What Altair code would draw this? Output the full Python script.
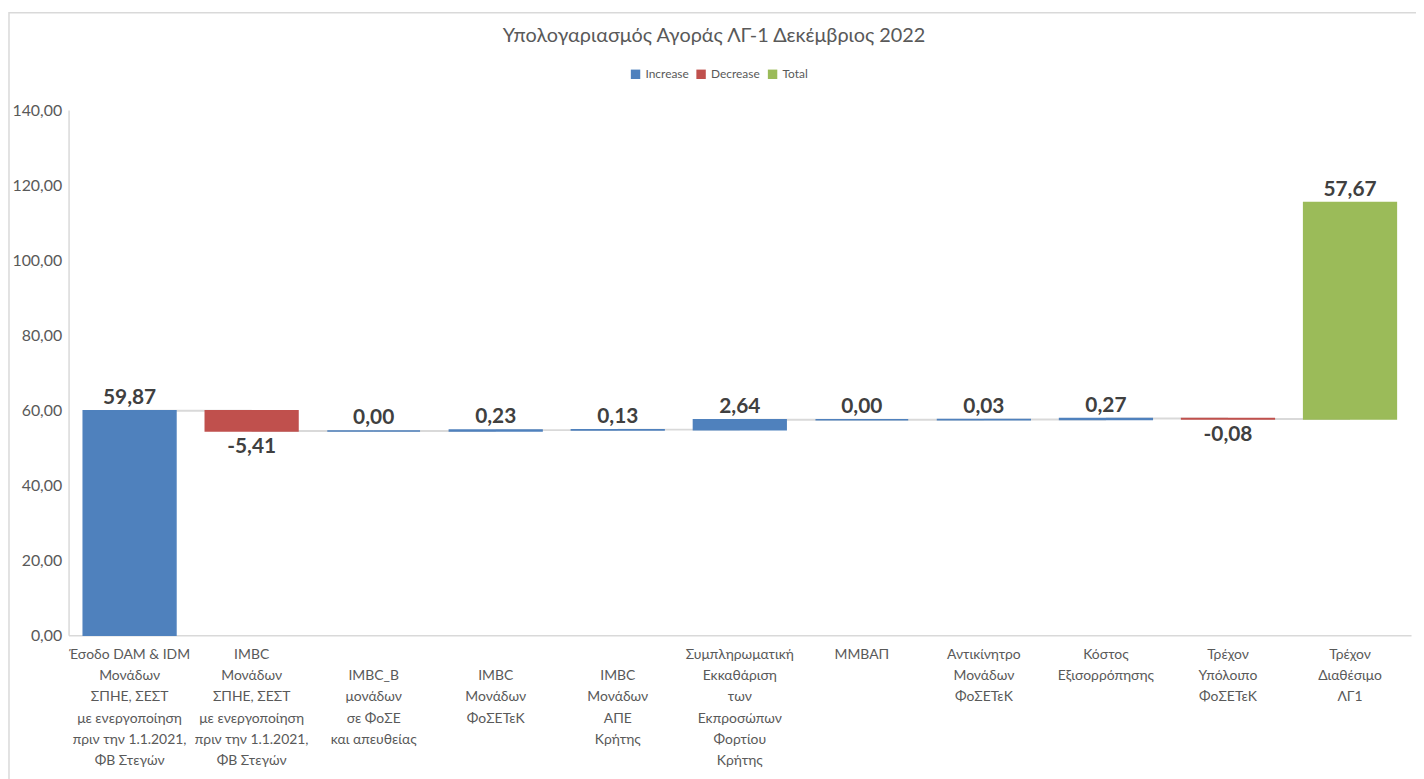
import altair as alt
import pandas as pd

categories = [
    "Έσοδο DAM & IDM|Μονάδων|ΣΠΗΕ, ΣΕΣΤ|με ενεργοποίηση|πριν την 1.1.2021,|ΦΒ Στεγών",
    "IMBC|Μονάδων|ΣΠΗΕ, ΣΕΣΤ|με ενεργοποίηση|πριν την 1.1.2021,|ΦΒ Στεγών",
    "|IMBC_B|μονάδων|σε ΦοΣΕ|και απευθείας",
    "|IMBC|Μονάδων|ΦοΣΕΤεΚ",
    "|IMBC|Μονάδων|ΑΠΕ|Κρήτης",
    "Συμπληρωματική|Εκκαθάριση|των|Εκπροσώπων|Φορτίου|Κρήτης",
    "ΜΜΒΑΠ",
    "Αντικίνητρο|Μονάδων|ΦοΣΕΤεΚ",
    "Κόστος|Εξισορρόπησης",
    "Τρέχον|Υπόλοιπο|ΦοΣΕΤεΚ",
    "Τρέχον|Διαθέσιμο|ΛΓ1",
]
values = [59.87, -5.41, 0.00, 0.23, 0.13, 2.64, 0.00, 0.03, 0.27, -0.08, 57.67]
kinds = ["Increase", "Decrease", "Increase", "Increase", "Increase", "Increase",
         "Increase", "Increase", "Increase", "Decrease", "Total"]
y_ticks = [0, 20, 40, 60, 80, 100, 120, 140]

rows = []
cum = 0.0
for cat, v, k in zip(categories, values, kinds):
    start = cum
    end = cum + v
    if k != "Total":
        cum = end
    rows.append(dict(cat=cat, start=start, end=end, kind=k, value=v,
                     label=f"{v:.2f}".replace(".", ","),
                     top=max(start, end), bottom=min(start, end)))
df = pd.DataFrame(rows)

conn = []
for i in range(len(categories) - 1):
    conn.append(dict(c1=categories[i], c2=categories[i + 1], level=rows[i]["end"]))
cdf = pd.DataFrame(conn)

FONT = "Lato, Open Sans, sans-serif"
W, H = 1352, 529
PADL, PADT = 61, 100

xscale = alt.Scale(domain=categories, paddingInner=0.24, paddingOuter=0.12)
yscale = alt.Scale(domain=[0, 140], nice=False)

xaxis = alt.Axis(title=None, labelAngle=0, labelExpr="split(datum.label, '|')",
                 labelFontSize=14, labelColor="#595959", labelFont=FONT,
                 labelLineHeight=21.5, labelPadding=12, labelLimit=0,
                 ticks=False, domainColor="#D9D9D9", domainWidth=1.5,
                 labelBaseline="top")
yaxis = alt.Axis(title=None, values=y_ticks,
                 labelExpr="replace(format(datum.value, '.2f'), '.', ',')",
                 labelFontSize=16, labelColor="#595959", labelFont=FONT,
                 ticks=False, grid=False, domainColor="#D9D9D9", domainWidth=1.5,
                 labelPadding=7)

colors = alt.Scale(domain=["Increase", "Decrease", "Total"],
                   range=["#4F81BD", "#C0504D", "#9BBB59"])

frame = alt.Chart(pd.DataFrame({"a": [0]})).mark_rect(
    filled=False, stroke="#D9D9D9", strokeWidth=1.5
).encode(x=alt.value(-PADL + 1), x2=alt.value(W + 200),
         y=alt.value(-PADT + 2), y2=alt.value(H + 400))

connectors = alt.Chart(cdf).mark_rule(color="#D9D9D9", strokeWidth=2).encode(
    x=alt.X("c1:N", scale=xscale, axis=xaxis),
    x2="c2:N",
    y=alt.Y("level:Q", scale=yscale, axis=yaxis),
)

bars = alt.Chart(df).mark_bar(strokeWidth=1.5).encode(
    x=alt.X("cat:N", scale=xscale, axis=xaxis),
    y=alt.Y("start:Q", scale=yscale, axis=yaxis),
    y2="end:Q",
    color=alt.Color("kind:N", scale=colors,
                    legend=alt.Legend(title=None, orient="none", direction="horizontal",
                                      legendX=565, legendY=-42, symbolType="square",
                                      symbolSize=90, labelFontSize=12, labelFont=FONT,
                                      labelColor="#595959", columnPadding=6,
                                      symbolStrokeWidth=0, labelOffset=4)),
    stroke=alt.Stroke("kind:N", scale=colors, legend=None),
)

text_pos = alt.Chart(df).transform_filter("datum.value >= 0").mark_text(
    baseline="bottom", dy=-3, fontSize=21, fontWeight="bold", font=FONT, color="#404040"
).encode(x=alt.X("cat:N", scale=xscale, axis=xaxis),
         y=alt.Y("top:Q", scale=yscale, axis=yaxis), text="label:N")

text_neg = alt.Chart(df).transform_filter("datum.value < 0").mark_text(
    baseline="top", dy=5, fontSize=21, fontWeight="bold", font=FONT, color="#404040"
).encode(x=alt.X("cat:N", scale=xscale, axis=xaxis),
         y=alt.Y("bottom:Q", scale=yscale, axis=yaxis), text="label:N")

chart = alt.layer(frame, connectors, bars, text_pos, text_neg).properties(
    width=W, height=H,
    background="white",
    autosize=alt.AutoSizeParams(type="none"),
    padding={"left": PADL, "top": PADT, "right": 5, "bottom": 150},
    title=alt.TitleParams("Υπολογαριασμός Αγοράς ΛΓ-1 Δεκέμβριος 2022",
                          fontSize=20, font=FONT, fontWeight="normal",
                          color="#595959", anchor="middle", offset=-34, dx=-26),
).configure_view(stroke=None)

chart.save("out.html", embed_options={"renderer": "svg", "actions": False})
